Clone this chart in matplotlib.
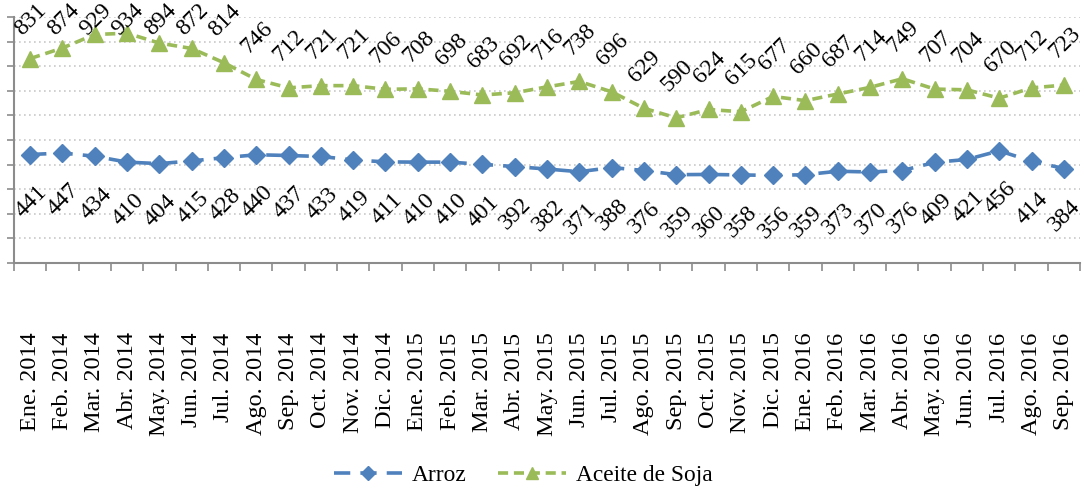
import numpy as np
import matplotlib
matplotlib.use("Agg")
from matplotlib import pyplot as plt

months = ["Ene.", "Feb.", "Mar.", "Abr.", "May.", "Jun.", "Jul.", "Ago.", "Sep.", "Oct.", "Nov.", "Dic."]
labels = [f"{m} {y}" for y in (2014, 2015) for m in months] + [f"{m} 2016" for m in months[:9]]

arroz = [441, 447, 434, 410, 404, 415, 428, 440, 437, 433, 419, 411, 410, 410, 401, 392, 382,
         371, 388, 376, 359, 360, 358, 356, 359, 373, 370, 376, 409, 421, 456, 414, 384]
soja = [831, 874, 929, 934, 894, 872, 814, 746, 712, 721, 721, 706, 708, 698, 683, 692, 716,
        738, 696, 629, 590, 624, 615, 677, 660, 687, 714, 749, 707, 704, 670, 712, 723]

BLUE = "#4F81BD"
GREEN = "#9BBB59"
AXIS_GRAY = "#8C8C8C"
FONT = "Liberation Serif"
W, H = 1084, 491

plt.rcParams.update({"font.family": FONT})

fig = plt.figure(figsize=(W / 100, H / 100), dpi=100)
ax = fig.add_axes([14 / W, 1 - 263 / H, 1066 / W, 246 / H])

x = np.arange(len(labels))
ax.plot(x, arroz, color=BLUE, linewidth=2.6, dashes=(4.5, 2.8), marker="D", markersize=9,
        markeredgecolor=BLUE, label="Arroz")
ax.plot(x, soja, color=GREEN, linewidth=2.6, dashes=(2.8, 1.6), marker="^", markersize=11,
        markeredgecolor=GREEN, label="Aceite de Soja")

ax.set_xlim(-0.5, len(labels) - 0.5)
ax.set_ylim(0, 1000)

# data labels: above for soja, below for arroz; kept inside the figure like Excel does
top_limit = H - 20
right_limit = W - 19


def put_label(xi, v, dy_px):
    xd, yd = ax.transData.transform((xi, v))
    dx_px = min(1, right_limit - xd)
    if dy_px > 0:
        dy_px = min(dy_px, top_limit - yd)
    ax.annotate(str(v), (xi, v), xytext=(dx_px * 0.72, dy_px * 0.72), textcoords="offset points",
                rotation=45, ha="center", va="center", fontsize=17)


for xi, v in zip(x, soja):
    put_label(xi, v, 42)
for xi, v in zip(x, arroz):
    put_label(xi, v, -47)

ax.set_yticks(np.arange(0, 1001, 100))
ax.set_yticklabels([])
ax.tick_params(axis="y", length=5, width=1.2, color=AXIS_GRAY, direction="out")
ax.grid(True, axis="y", linestyle=(0, (1, 2)), color="#C8C8C8", linewidth=1.2)

ax.set_xticks(x)
ax.set_xticklabels(labels, rotation=90, fontsize=17.5, va="top")
ax.tick_params(axis="x", which="major", length=0, pad=50)
ax.set_xticks(np.arange(-0.5, len(labels), 1), minor=True)
ax.tick_params(axis="x", which="minor", length=6, width=1.2, color=AXIS_GRAY, direction="out")

for side in ("top", "right"):
    ax.spines[side].set_visible(False)
for side in ("left", "bottom"):
    ax.spines[side].set_color(AXIS_GRAY)
    ax.spines[side].set_linewidth(1.5)

fig.legend(loc="center", bbox_to_anchor=(0.483, 1 - 475 / H), ncol=2, frameon=False,
           fontsize=16.8, handlelength=2.9, columnspacing=1.35, handletextpad=0.43, markerscale=0.75)

fig.savefig("out.png", dpi=100)
